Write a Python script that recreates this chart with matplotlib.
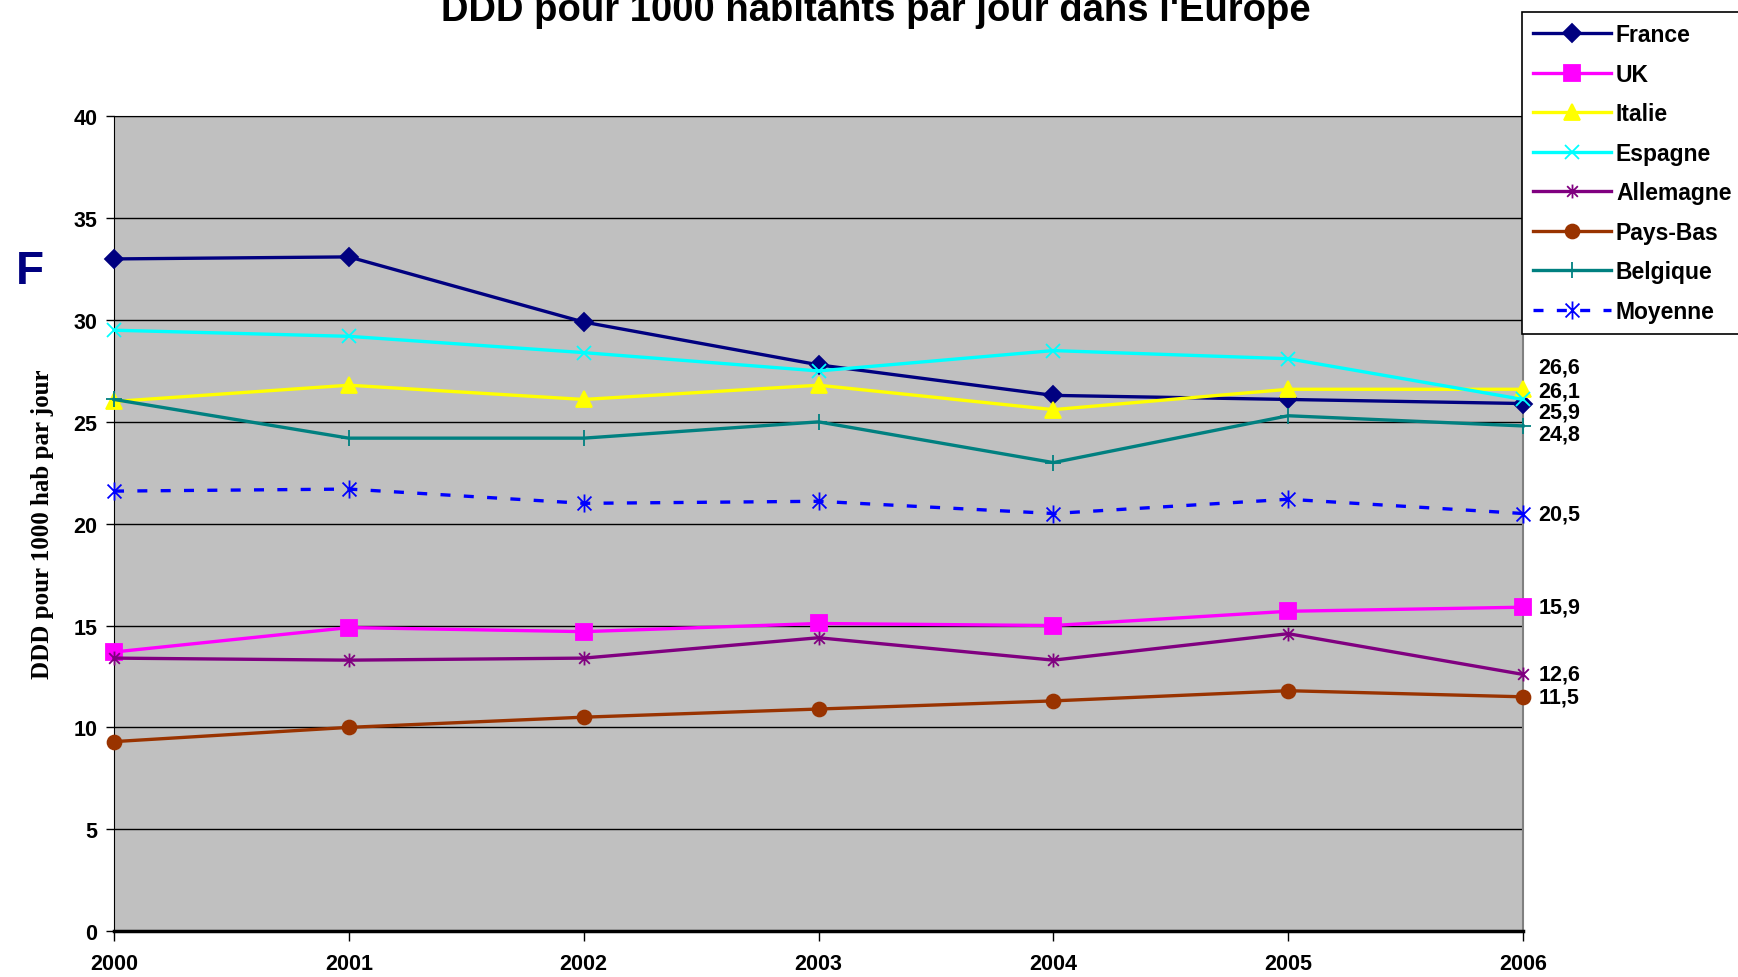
import matplotlib.pyplot as plt
from matplotlib.path import Path

# Données : DDD pour 1000 habitants par jour
annees = [2000, 2001, 2002, 2003, 2004, 2005, 2006]
france = [33.0, 33.1, 29.9, 27.8, 26.3, 26.1, 25.9]
uk = [13.7, 14.9, 14.7, 15.1, 15.0, 15.7, 15.9]
italie = [26.0, 26.8, 26.1, 26.8, 25.6, 26.6, 26.6]
espagne = [29.5, 29.2, 28.4, 27.5, 28.5, 28.1, 26.1]
allemagne = [13.4, 13.3, 13.4, 14.4, 13.3, 14.6, 12.6]
pays_bas = [9.3, 10.0, 10.5, 10.9, 11.3, 11.8, 11.5]
belgique = [26.1, 24.2, 24.2, 25.0, 23.0, 25.3, 24.8]
moyenne = [21.6, 21.7, 21.0, 21.1, 20.5, 21.2, 20.5]

# marqueur "astérisque" façon Excel : croix + trait vertical
etoile = Path([(-1, -1), (1, 1), (-1, 1), (1, -1), (0, -1.3), (0, 1.3)],
              [Path.MOVETO, Path.LINETO, Path.MOVETO, Path.LINETO, Path.MOVETO, Path.LINETO])

series = [
    ('France', france, '#000080', 'D', 9, '-', 0),
    ('UK', uk, '#FF00FF', 's', 11, '-', 0),
    ('Italie', italie, '#FFFF00', '^', 12, '-', 16),
    ('Espagne', espagne, '#00FFFF', 'x', 10, '-', 6),
    ('Allemagne', allemagne, '#800080', etoile, 10, '-', 0),
    ('Pays-Bas', pays_bas, '#993300', 'o', 10, '-', 0),
    ('Belgique', belgique, '#008080', '+', 12, '-', 0),
    ('Moyenne', moyenne, '#0000FF', etoile, 13, (0, (3, 4)), 0),
]
# décalage vertical des étiquettes (en points) pour éviter les chevauchements
decalage = {'France': -6, 'Belgique': -6}

plt.rcParams['font.family'] = ['Liberation Sans', 'DejaVu Sans']

fig = plt.figure(figsize=(17.38, 9.78), dpi=100)
ax = fig.add_axes([0.0656, 0.047, 0.8107, 0.833])
ax.set_facecolor('#C0C0C0')

for nom, vals, coul, mk, ms, ls, dy in series:
    ouvert = mk in ('x', '+') or mk is etoile
    ax.plot(annees, vals, color=coul, marker=mk, markersize=ms, linestyle=ls,
            linewidth=2.4, markerfacecolor='none' if ouvert else coul,
            markeredgecolor=coul, markeredgewidth=1.3, label=nom, clip_on=False, zorder=3)
    dy = decalage.get(nom, dy)
    ax.annotate(f"{vals[-1]:.1f}".replace('.', ','), (annees[-1], vals[-1]),
                xytext=(11, dy), textcoords='offset points', va='center', ha='left',
                fontsize=15.5, fontweight='bold', annotation_clip=False)

ax.set_xlim(2000, 2006)
ax.set_ylim(0, 40)
ax.set_xticks(annees)
ax.set_yticks(range(0, 41, 5))
ax.grid(axis='y', color='black', linewidth=1)
ax.set_axisbelow(True)
ax.tick_params(axis='both', labelsize=15.5, direction='out', width=1, color='black')
ax.tick_params(axis='x', length=7, pad=9)
ax.tick_params(axis='y', length=6, pad=6)
for lab in ax.get_xticklabels() + ax.get_yticklabels():
    lab.set_fontweight('bold')

ax.spines['left'].set_color('black')
ax.spines['bottom'].set_color('black')
ax.spines['bottom'].set_linewidth(2.5)
ax.spines['right'].set_color('#808080')
ax.spines['right'].set_linewidth(1.5)
ax.spines['top'].set_color('black')

ax.set_ylabel('DDD pour 1000 hab par jour', family='Liberation Serif',
              fontsize=18, fontweight='bold', labelpad=14)

fig.text(0.504, 0.979, "DDD pour 1000 habitants par jour dans l'Europe",
         ha='center', va='baseline', fontsize=27.5, fontweight='bold')
fig.text(0.009, 0.71, 'F', color='#000080', fontsize=33, fontweight='bold')

leg = fig.legend(loc='upper left', bbox_to_anchor=(0.8757, 0.987),
                 prop={'weight': 'bold', 'size': 16.5}, frameon=True, fancybox=False,
                 edgecolor='black', framealpha=1, handlelength=3.4, handletextpad=0.2,
                 labelspacing=0.72, borderpad=0.5, borderaxespad=0)
leg.get_frame().set_linewidth(1.2)

fig.savefig('out.png', dpi=100)
